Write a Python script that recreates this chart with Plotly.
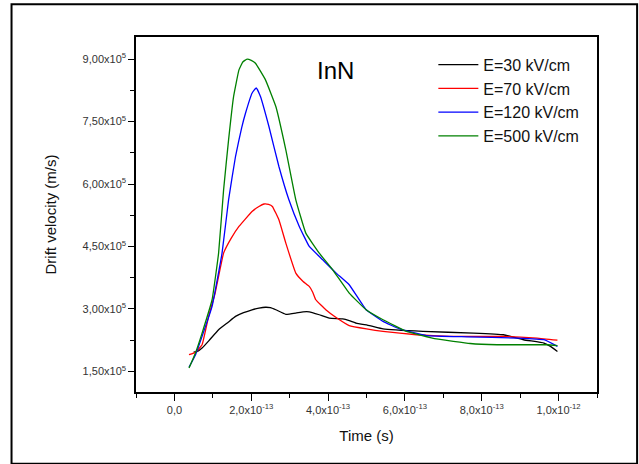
import plotly.graph_objects as go

# Time in units of 1e-13 s, velocity in units of 1e5 m/s
t30 = [0.50, 0.60, 0.72, 0.90, 1.15, 1.40, 1.59, 1.80, 2.02, 2.20, 2.37, 2.50, 2.64, 2.90, 3.16, 3.35, 3.51, 3.77, 4.03, 4.38, 4.55, 4.73, 5.08, 5.43, 6.47, 7.78, 8.57, 9.09, 9.62, 9.79, 9.97]
v30 = [1.96, 1.98, 2.06, 2.24, 2.50, 2.68, 2.82, 2.91, 2.98, 3.02, 3.04, 3.03, 2.98, 2.87, 2.90, 2.93, 2.93, 2.86, 2.78, 2.76, 2.72, 2.66, 2.60, 2.52, 2.46, 2.42, 2.38, 2.26, 2.18, 2.10, 1.98]

t70 = [0.38, 0.55, 0.72, 0.89, 1.06, 1.28, 1.48, 1.68, 2.02, 2.20, 2.33, 2.45, 2.55, 2.72, 2.90, 3.16, 3.35, 3.51, 3.60, 3.68, 3.94, 4.20, 4.55, 5.00, 5.43, 6.30, 7.17, 8.57, 9.44, 9.97]
v70 = [1.90, 1.96, 2.14, 2.82, 3.38, 4.34, 4.70, 4.98, 5.34, 5.46, 5.52, 5.51, 5.46, 5.14, 4.58, 3.86, 3.66, 3.54, 3.40, 3.22, 2.98, 2.80, 2.60, 2.52, 2.46, 2.38, 2.34, 2.34, 2.30, 2.25]

t120 = [0.38, 0.55, 0.72, 0.98, 1.24, 1.41, 1.59, 1.75, 1.85, 2.02, 2.13, 2.24, 2.46, 2.72, 2.98, 3.25, 3.51, 3.86, 4.21, 4.55, 4.99, 5.43, 5.86, 6.56, 7.61, 8.92, 9.62, 9.97]
v120 = [1.60, 1.90, 2.34, 3.06, 4.34, 5.62, 6.66, 7.35, 7.70, 8.18, 8.31, 8.10, 7.38, 6.42, 5.62, 4.98, 4.50, 4.18, 3.86, 3.58, 2.98, 2.70, 2.52, 2.36, 2.33, 2.30, 2.26, 2.10]

t500 = [0.38, 0.55, 0.72, 0.98, 1.15, 1.28, 1.41, 1.54, 1.68, 1.78, 1.89, 2.00, 2.11, 2.37, 2.64, 2.90, 3.16, 3.42, 3.77, 4.12, 4.55, 4.99, 5.43, 6.04, 6.82, 7.70, 8.40, 9.70, 9.97]
v500 = [1.58, 1.95, 2.42, 3.22, 4.34, 5.86, 7.06, 8.10, 8.74, 8.93, 9.00, 8.97, 8.90, 8.50, 7.86, 6.82, 5.62, 4.82, 4.34, 3.94, 3.38, 2.98, 2.74, 2.46, 2.28, 2.17, 2.14, 2.14, 2.12]

series_names = ["E=30 kV/cm", "E=70 kV/cm", "E=120 kV/cm", "E=500 kV/cm"]
series_colors = ["#000000", "#ff0000", "#0000ff", "#008000"]

x_tickvals = [0, 2e-13, 4e-13, 6e-13, 8e-13, 1e-12]
x_ticktext = ["0,0", "2,0x10<sup>-13</sup>", "4,0x10<sup>-13</sup>", "6,0x10<sup>-13</sup>",
              "8,0x10<sup>-13</sup>", "1,0x10<sup>-12</sup>"]
y_tickvals = [1.5e5, 3.0e5, 4.5e5, 6.0e5, 7.5e5, 9.0e5]
y_ticktext = ["1,50x10<sup>5</sup>", "3,00x10<sup>5</sup>", "4,50x10<sup>5</sup>",
              "6,00x10<sup>5</sup>", "7,50x10<sup>5</sup>", "9,00x10<sup>5</sup>"]

fig = go.Figure()
for t, v, name, color in zip([t30, t70, t120, t500], [v30, v70, v120, v500], series_names, series_colors):
    fig.add_trace(go.Scatter(
        x=[a * 1e-13 for a in t], y=[b * 1e5 for b in v],
        mode="lines", name=name, line=dict(color=color, width=1.3, shape="spline", smoothing=0.3),
    ))

FONT = "Liberation Sans, Arial, sans-serif"
tickfont = dict(family=FONT, size=11, color="#333333")
fig.update_layout(
    width=639, height=464,
    margin=dict(l=136, r=42, t=37, b=72),
    paper_bgcolor="white", plot_bgcolor="white",
    showlegend=True,
    legend=dict(x=0.645, y=0.97, xanchor="left", yanchor="top",
                font=dict(family=FONT, size=16, color="#111111"),
                bgcolor="rgba(0,0,0,0)", itemwidth=40, tracegroupgap=0),
    xaxis=dict(range=[-1e-13, 1.1e-12], showgrid=False, zeroline=False,
               showline=True, linecolor="black", linewidth=1.5, mirror=True,
               ticks="outside", ticklen=7, tickwidth=1.3, tickcolor="black",
               tickmode="array", tickvals=x_tickvals, ticktext=x_ticktext, tickfont=tickfont,
               minor=dict(ticks="outside", ticklen=4, tickwidth=1.3, tickcolor="black",
                          tickmode="linear", tick0=0, dtick=1e-13),
               title=dict(text="Time (s)", standoff=16,
                          font=dict(family=FONT, size=15, color="#111111"))),
    yaxis=dict(range=[1.005e5, 9.53e5], showgrid=False, zeroline=False,
               showline=True, linecolor="black", linewidth=1.5, mirror=True,
               ticks="outside", ticklen=6, tickwidth=1.3, tickcolor="black",
               tickmode="array", tickvals=y_tickvals, ticktext=y_ticktext, tickfont=tickfont,
               minor=dict(ticks="outside", ticklen=4, tickwidth=1.3, tickcolor="black",
                          tickmode="linear", tick0=0, dtick=0.75e5),
               title=dict(text="Drift velocity (m/s)", standoff=22,
                          font=dict(family=FONT, size=15, color="#111111"))),
)

fig.add_annotation(text="InN", xref="paper", yref="paper", x=0.433, y=0.905,
                   xanchor="center", yanchor="middle", showarrow=False,
                   font=dict(family=FONT, size=24, color="black"))

# outer frame
fig.add_shape(type="rect", xref="paper", yref="paper",
              x0=-0.27, x1=1.087, y0=-0.202, y1=1.092,
              line=dict(color="black", width=2), fillcolor="rgba(0,0,0,0)", layer="below")

fig.write_html("out.html")
